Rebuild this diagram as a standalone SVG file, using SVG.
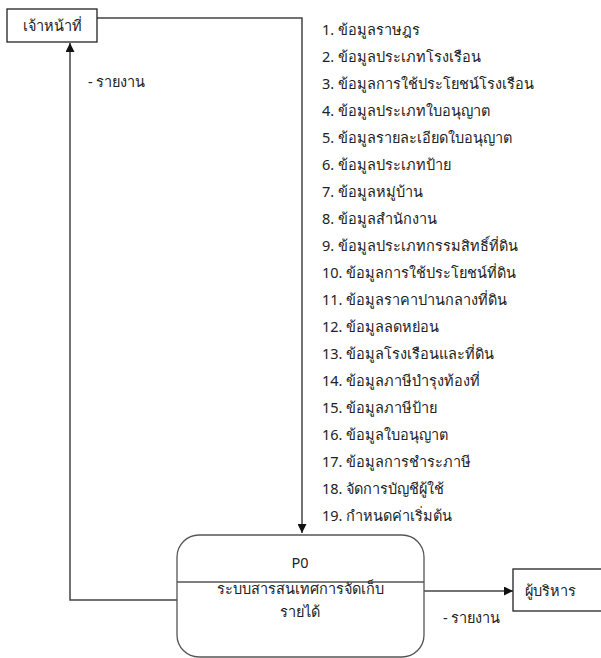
<svg xmlns="http://www.w3.org/2000/svg" width="601" height="658" viewBox="0 0 601 658">
<defs>
<style>
text{font-family:"Noto Sans","Liberation Sans",sans-serif;font-size:14.5px;fill:#222}
.box{fill:#fff;stroke:#222;stroke-width:1.3}
.proc{fill:#fff;stroke:#555;stroke-width:1.3}
.conn{fill:none;stroke:#444;stroke-width:1.5}
</style>
<marker id="ah" viewBox="0 0 10 10" refX="10" refY="5" markerWidth="9" markerHeight="9" markerUnits="userSpaceOnUse" orient="auto"><path d="M0,0 L10,5 L0,10 z" fill="#111"/></marker>
</defs>
<rect width="601" height="658" fill="#fff"/>
<g id="connectors">
<polyline class="conn" points="97,18 302,18 302,533" marker-end="url(#ah)"/>
<polyline class="conn" points="177,600 70,600 70,43" marker-end="url(#ah)"/>
<line class="conn" x1="424" y1="591" x2="513" y2="591" marker-end="url(#ah)"/>
<text x="88" y="87">- รายงาน</text>
<text x="443" y="623">- รายงาน</text>
</g>
<g id="staff">
<rect class="box" x="7" y="9" width="90" height="33"/>
<text x="52" y="31" text-anchor="middle">เจ้าหน้าที่</text>
</g>
<g id="p0">
<rect class="proc" x="177" y="535" width="247" height="122" rx="22"/>
<line class="proc" x1="177" y1="582" x2="424" y2="582"/>
<text x="300" y="568" text-anchor="middle">P0</text>
<text x="300" y="594" text-anchor="middle">ระบบสารสนเทศการจัดเก็บ</text>
<text x="300" y="617" text-anchor="middle">รายได้</text>
</g>
<g id="exec">
<rect class="box" x="513" y="569" width="90" height="42"/>
<text x="525" y="596">ผู้บริหาร</text>
</g>
<g id="list">
<text x="322" y="35">1. ข้อมูลราษฎร</text>
<text x="322" y="62">2. ข้อมูลประเภทโรงเรือน</text>
<text x="322" y="89">3. ข้อมูลการใช้ประโยชน์โรงเรือน</text>
<text x="322" y="116">4. ข้อมูลประเภทใบอนุญาต</text>
<text x="322" y="143">5. ข้อมูลรายละเอียดใบอนุญาต</text>
<text x="322" y="170">6. ข้อมูลประเภทป้าย</text>
<text x="322" y="197">7. ข้อมูลหมู่บ้าน</text>
<text x="322" y="224">8. ข้อมูลสำนักงาน</text>
<text x="322" y="251">9. ข้อมูลประเภทกรรมสิทธิ์ที่ดิน</text>
<text x="322" y="278">10. ข้อมูลการใช้ประโยชน์ที่ดิน</text>
<text x="322" y="305">11. ข้อมูลราคาปานกลางที่ดิน</text>
<text x="322" y="332">12. ข้อมูลลดหย่อน</text>
<text x="322" y="359">13. ข้อมูลโรงเรือนและที่ดิน</text>
<text x="322" y="386">14. ข้อมูลภาษีบำรุงท้องที่</text>
<text x="322" y="413">15. ข้อมูลภาษีป้าย</text>
<text x="322" y="440">16. ข้อมูลใบอนุญาต</text>
<text x="322" y="467">17. ข้อมูลการชำระภาษี</text>
<text x="322" y="494">18. จัดการบัญชีผู้ใช้</text>
<text x="322" y="521">19. กำหนดค่าเริ่มต้น</text>
</g>
</svg>
